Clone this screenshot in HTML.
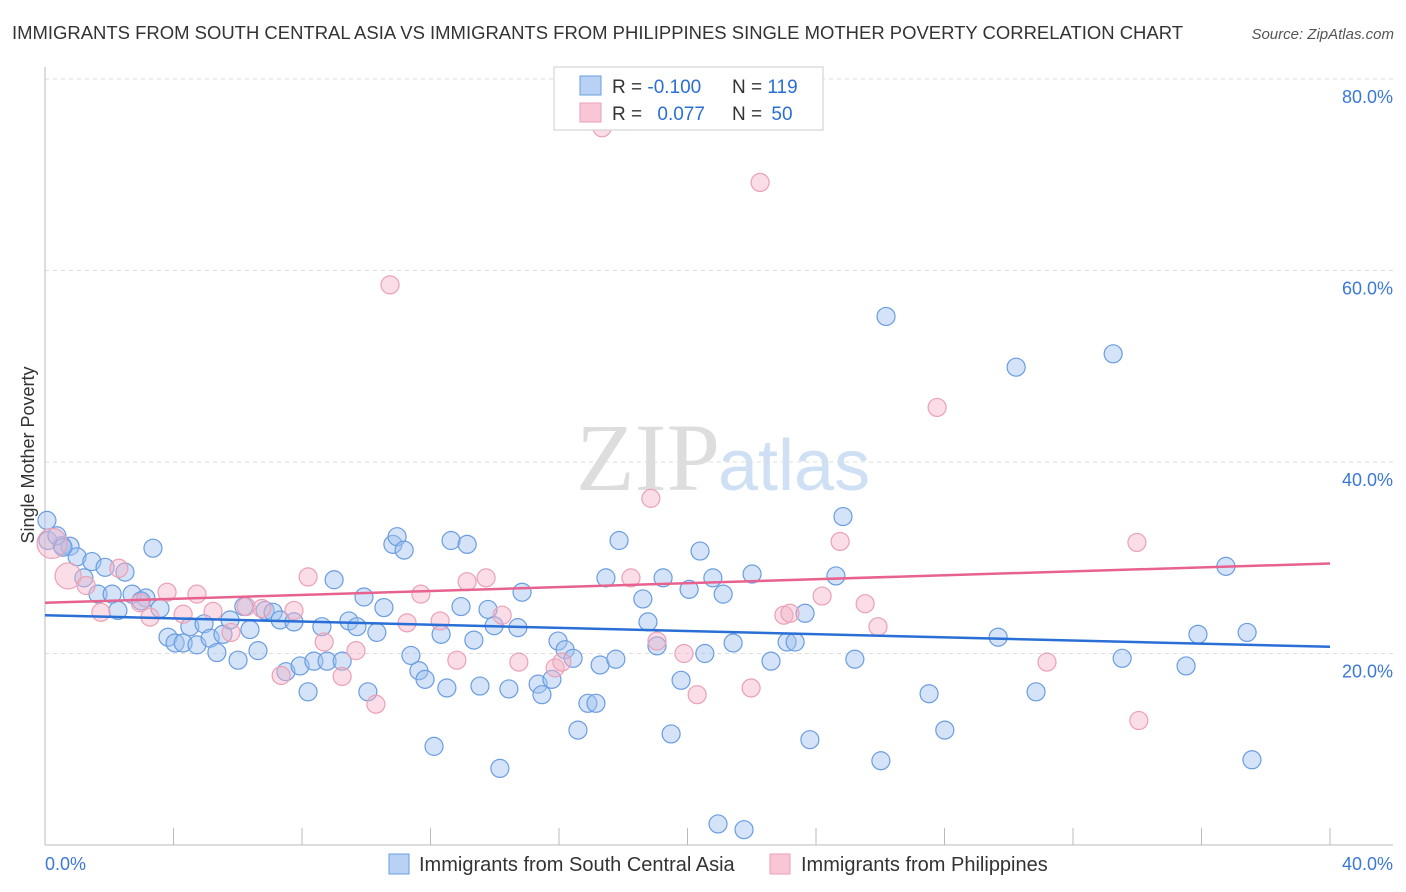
<!DOCTYPE html>
<html><head><meta charset="utf-8">
<style>
body{margin:0;background:#fff;font-family:"Liberation Sans",sans-serif;}
#wrap{position:relative;width:1406px;height:892px;overflow:hidden;}
</style></head>
<body>
<div id="wrap">
<svg id="svg" width="1406" height="892" xmlns="http://www.w3.org/2000/svg">
<text x="12" y="39" font-size="18" fill="#333" textLength="1171" lengthAdjust="spacingAndGlyphs">IMMIGRANTS FROM SOUTH CENTRAL ASIA VS IMMIGRANTS FROM PHILIPPINES SINGLE MOTHER POVERTY CORRELATION CHART</text>
<text x="1394" y="39" font-size="15" fill="#555" font-style="italic" text-anchor="end">Source: ZipAtlas.com</text>
<text x="720" y="490" font-size="96" fill="#ddd" text-anchor="end" font-family="Liberation Serif, serif">ZIP</text>
<text x="718" y="490" font-size="72" fill="#cfe0f5">atlas</text>
<text transform="translate(34,455) rotate(-90)" font-size="18" fill="#333" text-anchor="middle">Single Mother Poverty</text>
<g id="grid"></g><g id="marks"></g><g id="lines"></g>
<g>
<rect x="554" y="67" width="269" height="63" fill="#fff" stroke="#ccc"/>
<rect x="580" y="76" width="21" height="19" fill="#b9d1f5" stroke="#6a9de0"/>
<rect x="580" y="103" width="21" height="19" fill="#f8c6d5" stroke="#eba0b6"/>
<text x="612" y="93" font-size="19" fill="#333">R = <tspan fill="#2a6fd6">-0.100</tspan></text>
<text x="732" y="93" font-size="19" fill="#333">N = <tspan fill="#2a6fd6">119</tspan></text>
<text x="612" y="120" font-size="19" fill="#333">R = <tspan fill="#2a6fd6" dx="10">0.077</tspan></text>
<text x="732" y="120" font-size="19" fill="#333">N = <tspan fill="#2a6fd6" dx="4">50</tspan></text>
</g>
<g>
<rect x="389" y="854" width="20" height="20" fill="#b9d1f5" stroke="#6a9de0"/>
<text x="419" y="871" font-size="20" fill="#333">Immigrants from South Central Asia</text>
<rect x="770" y="854" width="20" height="20" fill="#f8c6d5" stroke="#eba0b6"/>
<text x="801" y="871" font-size="20" fill="#333">Immigrants from Philippines</text>
</g>
<text x="45" y="870" font-size="18" fill="#3b78d8">0.0%</text>
<text x="1393" y="870" font-size="18" fill="#3b78d8" text-anchor="end">40.0%</text>
</svg>
</div>
<script>
const yTicks=[20,40,60,80];
const yTickLabels=["20.0%","40.0%","60.0%","80.0%"];
const xTicks=[0,4,8,12,16,20,24,28,32,36,40];
const blueX=[0.06,0.53,0.78,1.0,1.46,1.87,2.49,1.21,3.36,1.65,2.09,2.27,2.71,3.14,2.99,3.58,3.83,4.05,4.30,4.51,4.73,4.95,5.14,5.35,5.54,5.76,6.01,6.19,6.38,6.63,6.85,7.10,7.32,7.50,7.75,7.94,8.19,8.37,8.62,8.78,9.0,9.25,9.46,9.71,9.93,10.05,10.33,10.55,10.83,10.96,11.18,11.39,11.64,11.83,12.11,12.33,12.51,12.64,12.95,13.14,13.35,13.54,13.79,13.98,14.16,14.44,14.72,14.85,15.35,15.47,15.78,15.97,16.19,16.44,16.59,16.90,17.15,17.28,17.46,17.77,17.87,18.61,18.77,19.05,19.24,19.49,19.80,20.39,20.05,20.54,20.79,20.95,21.11,21.42,21.76,22.01,22.60,23.10,23.35,23.66,23.81,24.62,24.84,25.21,26.02,26.18,27.52,28.01,29.67,30.23,30.85,33.25,33.53,35.52,35.89,36.76,37.42,37.57,0.09,0.37,0.56];
const blueY=[33.9,31.3,31.2,30.1,29.6,29.0,28.5,27.9,31.0,26.2,26.2,24.5,26.2,25.8,25.5,24.7,21.7,21.1,21.1,22.8,20.9,23.1,21.6,20.1,22.0,23.5,19.3,24.9,22.5,20.3,24.5,24.3,23.5,18.1,23.3,18.7,16.0,19.2,22.8,19.2,27.7,19.2,23.4,22.8,25.9,16.0,22.2,24.8,31.4,32.2,30.8,19.8,18.2,17.3,10.3,22.0,16.4,31.8,24.9,31.4,21.4,16.6,24.6,22.9,8.0,16.3,22.7,26.4,16.8,15.7,17.3,21.3,20.4,19.5,12.0,14.8,14.8,18.8,27.9,19.4,31.8,25.7,23.3,20.8,27.9,11.6,17.2,30.7,26.7,20.0,27.9,2.2,26.2,21.1,1.6,28.3,19.2,21.2,21.2,24.2,11.0,28.1,34.3,19.4,8.8,55.2,15.8,12.0,21.7,49.9,16.0,51.3,19.5,18.7,22.0,29.1,22.2,8.9,31.8,32.3,31.1];
const pinkX=[0.22,0.72,1.28,1.74,2.30,2.96,3.27,3.80,4.30,4.73,5.23,5.79,6.26,6.75,7.35,7.75,8.19,8.69,9.25,9.68,10.30,10.74,11.27,11.70,12.30,12.82,13.14,13.73,14.23,14.75,15.88,16.09,17.34,18.24,18.86,19.05,19.89,20.30,21.98,22.26,23.00,23.19,24.19,24.75,25.53,25.93,27.77,31.19,33.99,34.05];
const pinkY=[31.5,28.1,27.1,24.3,28.9,25.3,23.8,26.4,24.1,26.2,24.4,22.2,24.9,24.7,17.7,24.5,28.0,21.2,17.6,20.3,14.7,58.5,23.2,26.2,23.4,19.3,27.5,27.9,24.0,19.1,18.5,19.1,74.9,27.9,36.2,21.3,20.0,15.7,16.4,69.2,24.0,24.2,26.0,31.7,25.2,22.8,45.7,19.1,31.6,13.0];
const pinkBig=[15,13];
const trendBlue=[24.0,20.7];
const trendPink=[25.3,29.4];
const NS="http://www.w3.org/2000/svg";
const X=v=>45+v*(1330-45)/40;
const Y=v=>845-v*(845-79)/80;
function mk(tag,attrs,parent){const e=document.createElementNS(NS,tag);for(const k in attrs)e.setAttribute(k,attrs[k]);parent.appendChild(e);return e;}
const grid=document.getElementById('grid'),marks=document.getElementById('marks'),lines=document.getElementById('lines');
yTicks.forEach((t,i)=>{
 const l=mk('line',{x1:45,x2:1393,y1:Y(t),y2:Y(t),stroke:'#ddd','stroke-dasharray':'4,4'},grid);
 
 
 const tx=mk('text',{x:1393,y:Y(t)+24,'font-size':18,fill:'#3b78d8','text-anchor':'end'},grid);
 tx.textContent=yTickLabels[i];
 
 
});
const ax=mk('line',{x1:45,x2:1393,y1:845,y2:845,stroke:'#bbb'},grid);


const ay=mk('line',{x1:45,x2:45,y1:67,y2:845,stroke:'#bbb'},grid);


xTicks.forEach(t=>{
 const l=mk('line',{x1:X(t),x2:X(t),y1:828,y2:845,stroke:'#bbb'},grid);
 
 
});
blueX.forEach((v,i)=>{
 const c=mk('circle',{cx:X(v),cy:Y(blueY[i]),r:9,fill:'rgba(160,194,240,0.45)',stroke:'#6a9de0','stroke-width':1.2},marks);
 
 
});
pinkX.forEach((v,i)=>{
 const c=mk('circle',{cx:X(v),cy:Y(pinkY[i]),r:pinkBig[i]||9,fill:'rgba(244,180,200,0.45)',stroke:'#eba0b6','stroke-width':1.2},marks);
 
 
});
const lb=mk('line',{x1:X(0),x2:X(40),y1:Y(trendBlue[0]),y2:Y(trendBlue[1]),stroke:'#2a6fd6','stroke-width':2.5},lines);


const lp=mk('line',{x1:X(0),x2:X(40),y1:Y(trendPink[0]),y2:Y(trendPink[1]),stroke:'#e8628f','stroke-width':2.5},lines);


</script>
</body></html>
